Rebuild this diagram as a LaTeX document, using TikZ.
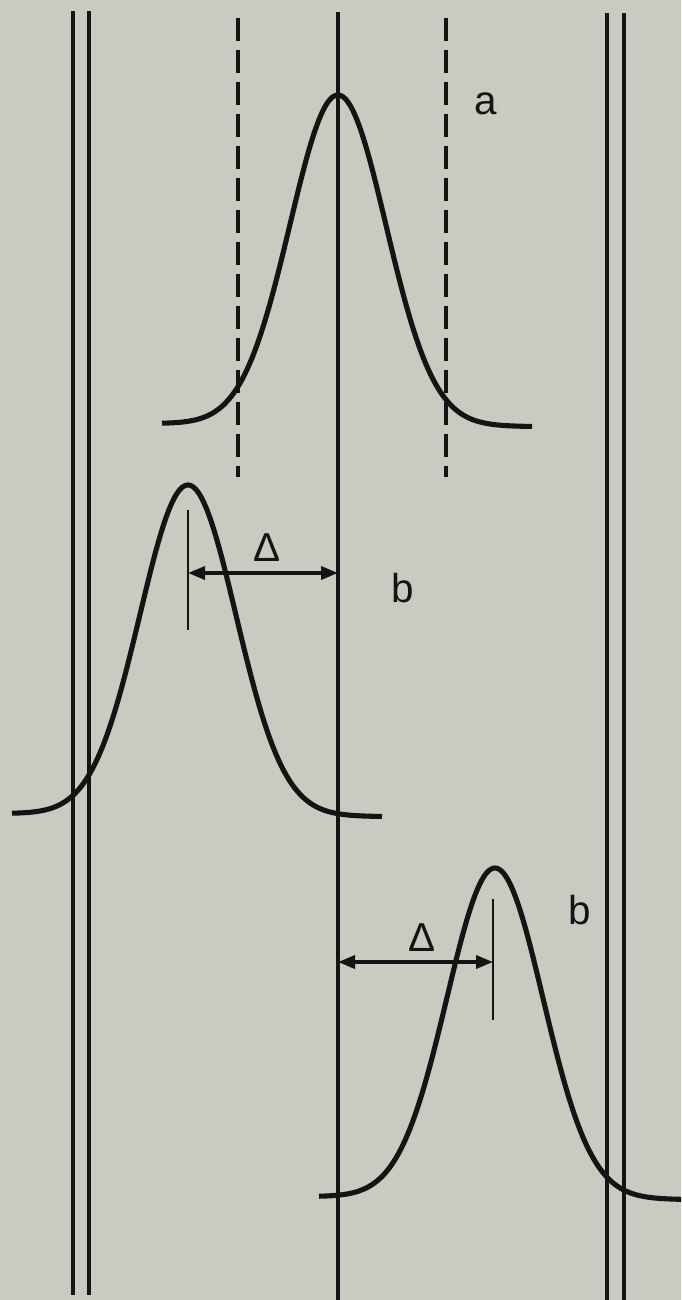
\documentclass[tikz,border=0pt]{standalone}
\usepackage{fontspec}
\setmainfont{Liberation Sans}
\usepackage{tikz}
\usetikzlibrary{arrows.meta}

\definecolor{paper}{RGB}{201,203,193}
\definecolor{ink}{RGB}{20,20,20}

\begin{document}
\begin{tikzpicture}[x=0.02cm, y=-0.02cm, ink,
    wall/.style={line width=1.9pt},
    guide/.style={line width=1.9pt, dash pattern=on 0.46cm off 0.18cm},
    curve/.style={line width=2.9pt, line join=round},
    tick/.style={line width=1.5pt},
    shift arrow/.style={line width=2pt, {Triangle[length=0.34cm,width=0.26cm]}-{Triangle[length=0.34cm,width=0.26cm]}},
    lbl/.style={inner sep=0pt, font=\fontsize{23}{27}\selectfont}]

  \useasboundingbox (0,0) rectangle (681,1300);
  \fill[paper] (0,0) rectangle (681,1300);
  \clip (0,0) rectangle (681,1300);

  % column walls and axis
  \coordinate (wl1) at (73,11);   \coordinate (wl1b) at (73,1295);
  \coordinate (wl2) at (89,11);   \coordinate (wl2b) at (89,1295);
  \coordinate (wr1) at (607,13);  \coordinate (wr1b) at (607,1300);
  \coordinate (wr2) at (624,13);  \coordinate (wr2b) at (624,1300);
  \coordinate (ax)  at (338,12);  \coordinate (axb)  at (338,1300);
  \draw[wall] (wl1) -- (wl1b);
  \draw[wall] (wl2) -- (wl2b);
  \draw[wall] (wr1) -- (wr1b);
  \draw[wall] (wr2) -- (wr2b);
  \draw[wall] (ax) -- (axb);

  % limits of peak a
  \coordinate (gl) at (238,18);  \coordinate (glb) at (238,477);
  \coordinate (gr) at (446,18);  \coordinate (grb) at (446,477);
  \draw[guide] (gl) -- (glb);
  \draw[guide] (gr) -- (grb);

  % the three peaks
  \foreach \cx/\by in {338/425, 188/815, 495/1198}
    \draw[curve] plot[domain=-176:194, samples=140, smooth]
      ({\cx+\x}, {\by+0.008*\x-330*exp(-0.5*(\x/48)^2)});

  % shifted peak, left
  \coordinate (t1) at (188,510);  \coordinate (t1b) at (188,630);
  \draw[tick] (t1) -- (t1b);
  \coordinate (s1a) at (188,573); \coordinate (s1b) at (338,573);
  \draw[shift arrow] (s1a) -- (s1b);

  % shifted peak, right
  \coordinate (t2) at (493,899);  \coordinate (t2b) at (493,1020);
  \draw[tick] (t2) -- (t2b);
  \coordinate (s2a) at (338,962); \coordinate (s2b) at (493,962);
  \draw[shift arrow] (s2a) -- (s2b);

  \node[lbl] (la)  at (486,104) {a};
  \node[lbl] (lb1) at (403,588) {b};
  \node[lbl] (lb2) at (580,910) {b};
  \node[lbl] (d1)  at (267,548) {Δ};
  \node[lbl] (d2)  at (422,938) {Δ};

\end{tikzpicture}
\end{document}
